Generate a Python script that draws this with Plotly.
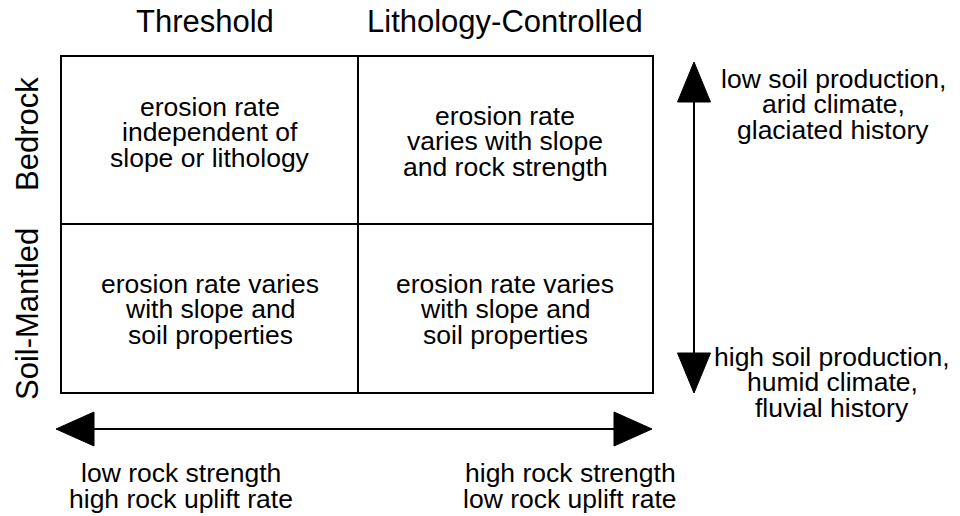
import plotly.graph_objects as go

# ---- content ----
col_labels = ["Threshold", "Lithology-Controlled"]
row_labels = ["Bedrock", "Soil-Mantled"]
cell_lines = [
    [["erosion rate", "independent of", "slope or lithology"],
     ["erosion rate", "varies with slope", "and rock strength"]],
    [["erosion rate varies", "with slope and", "soil properties"],
     ["erosion rate varies", "with slope and", "soil properties"]],
]
vert_top_lines = ["low soil production,", "arid climate,", "glaciated history"]
vert_bot_lines = ["high soil production,", "humid climate,", "fluvial history"]
horiz_left_lines = ["low rock strength", "high rock uplift rate"]
horiz_right_lines = ["high rock strength", "low rock uplift rate"]

# ---- layout geometry (pixel-like coordinates of the 960x516 page) ----
W, H = 960, 516
OFF = 8  # default page body margin
box_x = [61, 358, 653]
box_y = [56, 224, 393]
col_cx = [210, 505]
row_cy = [132, 309]
cell_cy_adj = [[0, 9], [0, 0]]
line_h = 25.5
FONT = "Liberation Sans, Arial, Helvetica, sans-serif"
cell_size = 26.5
head_size = 31
BLACK = "#000000"

fig = go.Figure()
fig.add_trace(go.Scatter(x=[OFF, W], y=[OFF, H], mode="markers",
                         marker=dict(opacity=0), hoverinfo="skip", showlegend=False))

shapes = []
lw = 2
shapes.append(dict(type="rect", x0=box_x[0], x1=box_x[2], y0=box_y[0], y1=box_y[2],
                   line=dict(color=BLACK, width=lw), xref="x", yref="y"))
shapes.append(dict(type="line", x0=box_x[1], x1=box_x[1], y0=box_y[0], y1=box_y[2],
                   line=dict(color=BLACK, width=lw), xref="x", yref="y"))
shapes.append(dict(type="line", x0=box_x[0], x1=box_x[2], y0=box_y[1], y1=box_y[1],
                   line=dict(color=BLACK, width=lw), xref="x", yref="y"))

# vertical double arrow
vx, vy0, vy1 = 694, 62, 393
ah_len, ah_half = 40, 16.5
shapes.append(dict(type="line", x0=vx, x1=vx, y0=vy0 + 20, y1=vy1 - 20,
                   line=dict(color=BLACK, width=lw), xref="x", yref="y"))
shapes.append(dict(type="path",
                   path=f"M {vx},{vy0} L {vx-ah_half},{vy0+ah_len} L {vx+ah_half},{vy0+ah_len} Z",
                   fillcolor=BLACK, line=dict(color=BLACK, width=1), xref="x", yref="y"))
shapes.append(dict(type="path",
                   path=f"M {vx},{vy1} L {vx-ah_half},{vy1-ah_len} L {vx+ah_half},{vy1-ah_len} Z",
                   fillcolor=BLACK, line=dict(color=BLACK, width=1), xref="x", yref="y"))

# horizontal double arrow
hy, hx0, hx1 = 429, 56, 652
hh_len, hh_half = 38, 17
shapes.append(dict(type="line", x0=hx0 + 20, x1=hx1 - 20, y0=hy, y1=hy,
                   line=dict(color=BLACK, width=lw), xref="x", yref="y"))
shapes.append(dict(type="path",
                   path=f"M {hx0},{hy} L {hx0+hh_len},{hy-hh_half} L {hx0+hh_len},{hy+hh_half} Z",
                   fillcolor=BLACK, line=dict(color=BLACK, width=1), xref="x", yref="y"))
shapes.append(dict(type="path",
                   path=f"M {hx1},{hy} L {hx1-hh_len},{hy-hh_half} L {hx1-hh_len},{hy+hh_half} Z",
                   fillcolor=BLACK, line=dict(color=BLACK, width=1), xref="x", yref="y"))

annotations = []


def add_text(x, y, text, size, angle=0):
    annotations.append(dict(x=x, y=y, xref="x", yref="y", text=text, showarrow=False,
                            xanchor="center", yanchor="middle", textangle=angle,
                            font=dict(family=FONT, size=size, color=BLACK)))


def add_block(cx, cy, lines, size=cell_size):
    n = len(lines)
    for i, t in enumerate(lines):
        add_text(cx, cy + (i - (n - 1) / 2) * line_h, t, size)


add_text(204.5, 21, col_labels[0], head_size)
add_text(505, 21, col_labels[1], head_size)
add_text(27, 134, row_labels[0], head_size, -90)
add_text(27, 314, row_labels[1], head_size, -90)

for r in range(2):
    for c in range(2):
        add_block(col_cx[c], row_cy[r] + cell_cy_adj[r][c], cell_lines[r][c])

add_block(833, 104, vert_top_lines)
add_block(832, 382, vert_bot_lines)
add_block(181, 486, horiz_left_lines)
add_block(570, 486, horiz_right_lines)

fig.update_layout(
    width=W - OFF, height=H - OFF,
    margin=dict(l=0, r=0, t=0, b=0),
    paper_bgcolor="white", plot_bgcolor="white",
    xaxis=dict(range=[OFF, W], visible=False, fixedrange=True),
    yaxis=dict(range=[H, OFF], visible=False, fixedrange=True),
    shapes=shapes, annotations=annotations, showlegend=False,
)

fig.write_html("out.html")
